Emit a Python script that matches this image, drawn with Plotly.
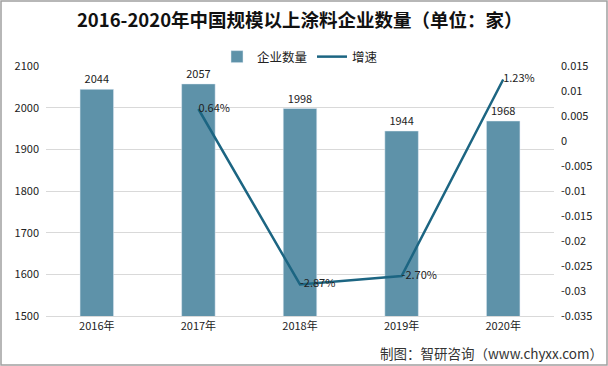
import plotly.graph_objects as go

years = ["2016年", "2017年", "2018年", "2019年", "2020年"]
counts = [2044, 2057, 1998, 1944, 1968]
growth_x = ["2017年", "2018年", "2019年", "2020年"]
growth = [0.0064, -0.0287, -0.0270, 0.0123]
growth_labels = ["0.64%", "-2.87%", "-2.70%", "1.23%"]
right_ticks = [0.015, 0.01, 0.005, 0, -0.005, -0.01, -0.015, -0.02, -0.025, -0.03, -0.035]
right_tick_text = ["0.015", "0.01", "0.005", "0", "-0.005", "-0.01", "-0.015", "-0.02", "-0.025", "-0.03", "-0.035"]

font = "Microsoft YaHei, Noto Sans CJK SC, sans-serif"

W, H = 608, 366
L, R, T, B = 46, 54, 66, 50
pw, ph = W - L - R, H - T - B

fig = go.Figure()
fig.add_trace(go.Bar(
    x=years, y=counts, name="企业数量",
    marker=dict(color="#5E92A9"),
    text=[str(v) for v in counts], textposition="outside",
    textfont=dict(size=11, color="#222"),
    cliponaxis=False,
))
fig.add_trace(go.Scatter(
    x=growth_x, y=growth, name="增速", yaxis="y2",
    mode="lines+text", line=dict(color="#1C6582", width=2.5),
    text=growth_labels, textposition="middle right",
    textfont=dict(size=11, color="#222"),
    cliponaxis=False,
))

fig.update_layout(
    width=W, height=H,
    margin=dict(l=L, r=R, t=T, b=B, autoexpand=False),
    paper_bgcolor="white", plot_bgcolor="white",
    font=dict(family=font, size=11, color="#222"),
    title=dict(text="<b>2016-2020年中国规模以上涂料企业数量（单位：家）</b>",
               x=0.493, xanchor="center", y=0.945, yanchor="middle",
               font=dict(size=18.5, color="#111")),
    legend=dict(orientation="h", x=0.5, xanchor="center", y=1.036, yanchor="middle",
                font=dict(size=12.5), bgcolor="rgba(0,0,0,0)"),
    bargap=0.67,
    showlegend=True,
    xaxis=dict(showgrid=False, showline=True, linecolor="#d9d9d9", ticks="",
               tickfont=dict(size=11), automargin=False),
    yaxis=dict(range=[1500, 2100], dtick=100, showgrid=True, gridcolor="#d9d9d9",
               zeroline=False, tickfont=dict(size=11), ticklabelstandoff=6,
               automargin=False),
    yaxis2=dict(range=[-0.035, 0.015], overlaying="y", side="right",
                tickvals=right_ticks, ticktext=right_tick_text,
                showgrid=False, zeroline=False,
                tickfont=dict(size=11), ticklabelstandoff=6, automargin=False),
    shapes=[dict(type="rect", xref="paper", yref="paper",
                 x0=-(L - 1) / pw, x1=1 + (R - 1) / pw,
                 y0=-(B - 1) / ph, y1=1 + (T - 1) / ph,
                 line=dict(color="#a0a0a0", width=1.5))],
    annotations=[dict(text="制图：智研咨询（www.chyxx.com）", xref="paper", yref="paper",
                      x=1.1, y=-0.1, xanchor="right", yanchor="top", showarrow=False,
                      font=dict(size=13.5, color="#333"))],
)

fig.write_html("out.html", config={"displayModeBar": False})

with open("out.html", "r", encoding="utf-8") as f:
    html = f.read()
html = html.replace("<head>", "<head><style>html,body{margin:0;padding:0;overflow:hidden;}</style>", 1)
with open("out.html", "w", encoding="utf-8") as f:
    f.write(html)
